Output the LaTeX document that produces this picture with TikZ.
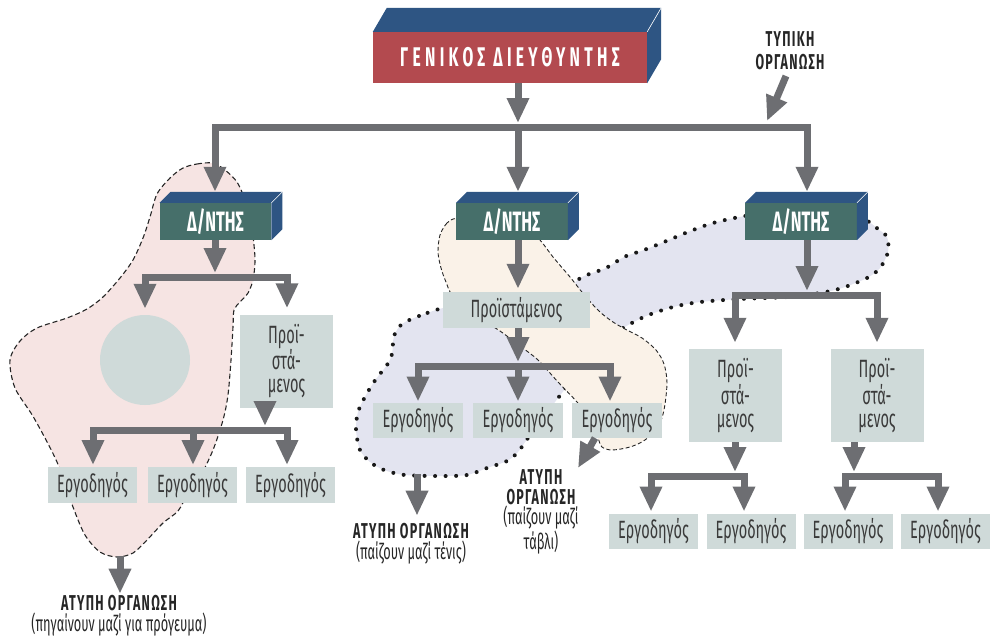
\documentclass[tikz,border=0pt]{standalone}
\usepackage{fontspec}
\setmainfont{Fira Sans}[FakeStretch=0.58]
\usetikzlibrary{arrows.meta,calc}
\definecolor{arrowgray}{HTML}{6D6E72}
\definecolor{boxgray}{HTML}{CFDAD9}
\definecolor{teal}{HTML}{466F6A}
\definecolor{navy}{HTML}{2E5583}
\definecolor{chiefred}{HTML}{B34A4F}
\definecolor{pinkfill}{HTML}{F6E4E3}
\definecolor{peachfill}{HTML}{FAF2E8}
\definecolor{lavfill}{HTML}{E3E4F0}
\definecolor{textdark}{HTML}{3A3A3A}

% top and right faces of a raised box
\newcommand{\raisedfaces}[3]{%
  \fill[navy] (#1.north west) -- ++(#2,-#3) -- ($(#1.north east)+(#2,-#3)$) -- (#1.north east) -- cycle;
  \fill[navy] (#1.north east) -- ++(#2,-#3) -- ($(#1.south east)+(#2,-#3)$) -- (#1.south east) -- cycle;
  \draw[white, line width=0.6pt] (#1.north east) -- ++(#2,-#3);
}

\begin{document}
\begin{tikzpicture}[x=1pt,y=-1pt,
  arr/.style={draw=arrowgray, line width=7pt, -{Triangle[width=21pt,length=25pt]}},
  barline/.style={draw=arrowgray, line width=7pt, line cap=rect},
  lightbox/.style={fill=boxgray, inner sep=0pt, text=textdark, align=center,
    font=\fontsize{25}{23}\selectfont},
  foreman/.style={lightbox, minimum width=89pt, minimum height=35.5pt},
  headbox/.style={fill=teal, inner sep=0pt, text=white, minimum width=111.5pt,
    minimum height=37pt, font=\bfseries\fontsize{28}{28}\selectfont},
  caption/.style={text=black!85, align=center,
    font=\bfseries\fontsize{21.5}{23}\selectfont\addfontfeature{LetterSpace=6}},
  note/.style={text=black!85, align=center, font=\fontsize{22}{22}\selectfont},
  groupdash/.style={draw=black!85, line width=1.1pt, dash pattern=on 5pt off 3pt},
  groupdot/.style={draw=black!90, line width=4pt, line cap=round, dash pattern=on 0pt off 10.5pt},
]
\useasboundingbox (0,0) rectangle (992,638);

% informal group: breakfast
\def\breakfastpath{plot[smooth cycle] coordinates {
  (183,168) (197,164) (213,163) (225,170) (237,182) (245,200) (251,222) (254,245)
  (255,262) (253,280) (248,293) (240,302) (234,310) (233,327) (231,360) (228,395)
  (223,420) (213,450) (200,477) (187,495) (178,511) (163,523) (147,540) (133,553)
  (117,557) (100,552) (85,535) (73,507) (57,462) (34,418) (15,388) (10,360)
  (20,341) (37,328) (67,318) (87,309) (103,297) (120,278) (133,260) (143,238)
  (150,217) (157,194) (170,178)}}
\fill[pinkfill] \breakfastpath;
\draw[groupdash] \breakfastpath;

% informal group: tennis, reaching the third director
\def\tennispath{plot[smooth cycle] coordinates {
  (439,309) (419,316) (402,324) (394,336) (392,354) (387,365) (376,379)
  (366,395) (358,412) (356,430) (360,450) (370,462) (384,470) (405,475)
  (440,476) (467,475) (487,468) (507,461) (518,452) (528,438) (555,402)
  (565,389) (588,360) (606,340) (623,328) (646,316) (673,307) (700,302)
  (740,299) (787,297) (820,293) (842,288) (867,278) (880,268) (888,252)
  (887,237) (878,229) (866,220) (845,212) (790,210) (745,216) (713,223)
  (688,232) (664,242) (644,250) (624,257) (606,268) (582,277) (565,289)
  (520,299) (470,304) (447,307)}}
\fill[lavfill] \tennispath;
\draw[groupdot] \tennispath;

% informal group: backgammon
\def\backgammonpath{plot[smooth cycle] coordinates {
  (457,218) (447,223) (440,235) (438,252) (441,268) (446,282) (453,296)
  (478,317) (500,331) (520,346) (538,360) (558,382) (577,402) (591,420)
  (598,438) (602,447) (612,450) (630,447) (645,440) (658,427) (664,410)
  (667,383) (664,364) (656,350) (642,338) (625,329) (613,322) (600,312)
  (586,297) (570,277) (553,257) (540,240) (520,220) (490,214)}}
\fill[peachfill] \backgammonpath;
\draw[groupdash, line width=0.9pt, dash pattern=on 4pt off 2.5pt] \backgammonpath;

% general manager
\node[fill=chiefred, inner sep=0pt, minimum width=274pt, minimum height=51pt,
  text=white, font=\bfseries\fontsize{27}{27}\selectfont] (gm) at (510,57.5)
  {\addfontfeature{LetterSpace=16}ΓΕΝΙΚΟΣ ΔΙΕΥΘΥΝΤΗΣ};
\raisedfaces{gm}{14}{24}

% directors
\node[headbox] (d1) at (215.5,221.5) {Δ/ΝΤΗΣ};
\raisedfaces{d1}{11}{11}
\node[headbox] (d2) at (512,221.5) {Δ/ΝΤΗΣ};
\raisedfaces{d2}{11}{11}
\node[headbox] (d3) at (801,221.5) {Δ/ΝΤΗΣ};
\raisedfaces{d3}{11}{11}

% left branch
\node[circle, fill=boxgray, minimum size=90pt, inner sep=0pt] (c1) at (145,360) {};
\node[lightbox, minimum width=93pt, minimum height=93pt] (p1) at (286.5,361)
  {Προϊ-\\στά-\\μενος};
\node[foreman] (e1) at (92.5,485) {Εργοδηγός};
\node[foreman] (e2) at (192.5,485) {Εργοδηγός};
\node[foreman] (e3) at (290.5,485) {Εργοδηγός};

% middle branch
\node[lightbox, minimum width=147pt, minimum height=36pt] (p2) at (516.5,310) {Προϊστάμενος};
\node[foreman, minimum width=90pt] (m1) at (418,420.5) {Εργοδηγός};
\node[foreman, minimum width=90pt] (m2) at (518,420.5) {Εργοδηγός};
\node[foreman, minimum width=90pt] (m3) at (617,420.5) {Εργοδηγός};

% right branch
\node[lightbox, minimum width=93pt, minimum height=93pt] (p3) at (735.5,395.5)
  {Προϊ-\\στά-\\μενος};
\node[lightbox, minimum width=93pt, minimum height=93pt] (p4) at (877,395.5)
  {Προϊ-\\στά-\\μενος};
\node[foreman] (r1) at (653.5,531.5) {Εργοδηγός};
\node[foreman] (r2) at (751,531.5) {Εργοδηγός};
\node[foreman] (r3) at (848,531.5) {Εργοδηγός};
\node[foreman] (r4) at (945.5,531.5) {Εργοδηγός};

% labels
\node[caption] (formal) at (790,50.5) {ΤΥΠΙΚΗ\\ΟΡΓΑΝΩΣΗ};
\node[caption] (inf1) at (119,603) {ΑΤΥΠΗ ΟΡΓΑΝΩΣΗ};
\node[note] (inf1n) at (119,625) {(πηγαίνουν μαζί για πρόγευμα)};
\node[caption] (inf2) at (411,531) {ΑΤΥΠΗ ΟΡΓΑΝΩΣΗ};
\node[note] (inf2n) at (411,553) {(παίζουν μαζί τένις)};
\node[caption, font=\bfseries\fontsize{21.5}{20}\selectfont\addfontfeature{LetterSpace=6}]
  (inf3) at (541,487) {ΑΤΥΠΗ\\ΟΡΓΑΝΩΣΗ};
\node[note] (inf3n) at (541,530) {(παίζουν μαζί\\τάβλι)};

% junction points of the connector bars
\coordinate (b0) at (518,127);  \coordinate (b0L) at (215,127); \coordinate (b0R) at (807,127);
\coordinate (b1) at (215,277);  \coordinate (b1L) at (145,277); \coordinate (b1R) at (287,277);
\coordinate (b2) at (265,430);  \coordinate (b2L) at (93,430);  \coordinate (b2M) at (193,430); \coordinate (b2R) at (287,430);
\coordinate (b3) at (518,366);  \coordinate (b3L) at (418,366); \coordinate (b3R) at (610,366);
\coordinate (b4) at (807,295);  \coordinate (b4L) at (735,295); \coordinate (b4R) at (877,295);
\coordinate (b5) at (735,476);  \coordinate (b5L) at (651,476); \coordinate (b5R) at (744,476);
\coordinate (b6) at (854,476);  \coordinate (b6L) at (845,476); \coordinate (b6R) at (938,476);
\coordinate (g1) at (120,556);  \coordinate (g2) at (417,474);
\coordinate (g3) at (595,438);  \coordinate (g3t) at (578,468);
\coordinate (f0) at (786,76);   \coordinate (f0t) at (767,121);

% formal chain of command
\draw[barline] (b0L) -- (b0R);
\draw[arr] (gm.south -| b0) -- ($(b0)+(0,-4)$);
\draw[arr] (b0L) -- ($(b0L |- d1.north)+(0,-11)$);
\draw[arr] (b0) -- ($(b0 |- d2.north)+(0,-11)$);
\draw[arr] (b0R) -- ($(b0R |- d3.north)+(0,-11)$);

\draw[barline] (b1L) -- (b1R);
\draw[arr] (d1.south -| b1) -- ($(b1)+(0,-4)$);
\draw[arr] (b1L) -- ($(b1L |- c1.north)+(0,-6)$);
\draw[arr] (b1R) -- ($(b1R |- p1.north)+(0,-6)$);
\draw[barline] (b2L) -- (b2R);
\draw[arr] (p1.south -| b2) -- ($(b2)+(0,-4)$);
\draw[arr] (b2L) -- ($(b2L |- e1.north)+(0,-2)$);
\draw[arr] (b2M) -- ($(b2M |- e2.north)+(0,-2)$);
\draw[arr] (b2R) -- ($(b2R |- e3.north)+(0,-2)$);

\draw[arr] (d2.south -| b3) -- ($(b3 |- p2.north)+(0,-3)$);
\draw[barline] (b3L) -- (b3R);
\draw[arr] (p2.south -| b3) -- ($(b3)+(0,-4)$);
\draw[arr] (b3L) -- ($(b3L |- m1.north)+(0,-1)$);
\draw[arr] (b3) -- ($(b3 |- m2.north)+(0,-1)$);
\draw[arr] (b3R) -- ($(b3R |- m3.north)+(0,-1)$);

\draw[barline] (b4L) -- (b4R);
\draw[arr] (d3.south -| b4) -- ($(b4)+(0,-4)$);
\draw[arr] (b4L) -- ($(b4L |- p3.north)+(0,-6)$);
\draw[arr] (b4R) -- ($(b4R |- p4.north)+(0,-6)$);
\draw[barline] (b5L) -- (b5R);
\draw[arr] (p3.south -| b5) -- ($(b5)+(0,-4)$);
\draw[arr] (b5L) -- ($(b5L |- r1.north)+(0,-2)$);
\draw[arr] (b5R) -- ($(b5R |- r2.north)+(0,-2)$);
\draw[barline] (b6L) -- (b6R);
\draw[arr] (p4.south -| b6) -- ($(b6)+(0,-4)$);
\draw[arr] (b6L) -- ($(b6L |- r3.north)+(0,-2)$);
\draw[arr] (b6R) -- ($(b6R |- r4.north)+(0,-2)$);

% pointers to the labels
\draw[arr] (f0) -- (f0t);
\draw[arr] (g1) -- ($(g1 |- inf1.north)+(0,2)$);
\draw[arr] (g2) -- ($(g2 |- inf2.north)+(0,-4)$);
\draw[arr] (g3) -- (g3t);
\end{tikzpicture}
\end{document}
